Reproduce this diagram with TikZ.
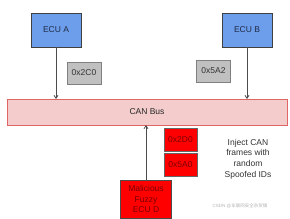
\documentclass[tikz,border=0pt]{standalone}
\usepackage{fontspec}
\setmainfont{Liberation Sans}
\newfontfamily\cjk{Noto Sans CJK SC}
\usetikzlibrary{arrows.meta}
\definecolor{ecublue}{HTML}{6D9EEB}
\definecolor{busfill}{HTML}{F4CCCC}
\definecolor{busline}{HTML}{E06666}
\definecolor{idgray}{HTML}{C0C0C0}
\definecolor{txtnavy}{HTML}{1F2A44}
\definecolor{darkred}{HTML}{7A0000}
\begin{document}
\begin{tikzpicture}[x=1pt,y=-1pt,
  every node/.style={inner sep=0pt,outer sep=0pt,font=\fontsize{8.5}{10}\selectfont},
  ecubox/.style={draw=black!75,line width=0.8pt,fill=ecublue,text=txtnavy,minimum width=50pt,minimum height=34pt},
  idbox/.style={draw=black!50,line width=0.6pt,fill=idgray,text=black!80,minimum width=34pt,minimum height=22pt},
  redbox/.style={draw=black!60,line width=0.6pt,fill=red,text=darkred,minimum width=33pt,minimum height=23pt},
  busbox/.style={draw=busline,line width=0.9pt,fill=busfill,text=black!85,minimum width=280pt,minimum height=26pt},
  arr/.style={draw=black!70,line width=0.8pt,-{Straight Barb[length=3pt,width=4pt]}}
]
\useasboundingbox (0,0) rectangle (290,218);
\node[ecubox] (ecua) at (56,30) {ECU A};
\node[ecubox] (ecub) at (247,30) {ECU B};
\node[busbox] (bus) at (147,112) {CAN Bus};
\node[idbox] (id1) at (84,73) {0x2C0};
\node[idbox] (id2) at (213.5,71) {0x5A2};
\node[redbox] (id3) at (180.5,139.5) {0x2D0};
\node[redbox] (id4) at (180.5,164.5) {0x5A0};
\node[draw=black!70,line width=0.8pt,fill=red,text=darkred,minimum width=51pt,minimum height=38pt,align=center,font=\fontsize{8.5}{10.5}\selectfont] (ecud) at (146,199) {Malicious\\Fuzzy\\ECU D};
\node[align=center,text=black!80,font=\fontsize{8.5}{10.8}\selectfont] (inj) at (248,159) {Inject CAN\\frames with\\random\\Spoofed IDs};
\node[text=black!30,font=\fontsize{4.5}{5}\selectfont] (wm) at (240,206) {CSDN @{\cjk 车联网安全杂货铺}};
\draw[arr] (ecua.south) -- (ecua.south |- bus.north);
\draw[arr] (ecub.south) -- (ecub.south |- bus.north);
\draw[arr] (ecud.north) -- (ecud.north |- bus.south);
\end{tikzpicture}
\end{document}
